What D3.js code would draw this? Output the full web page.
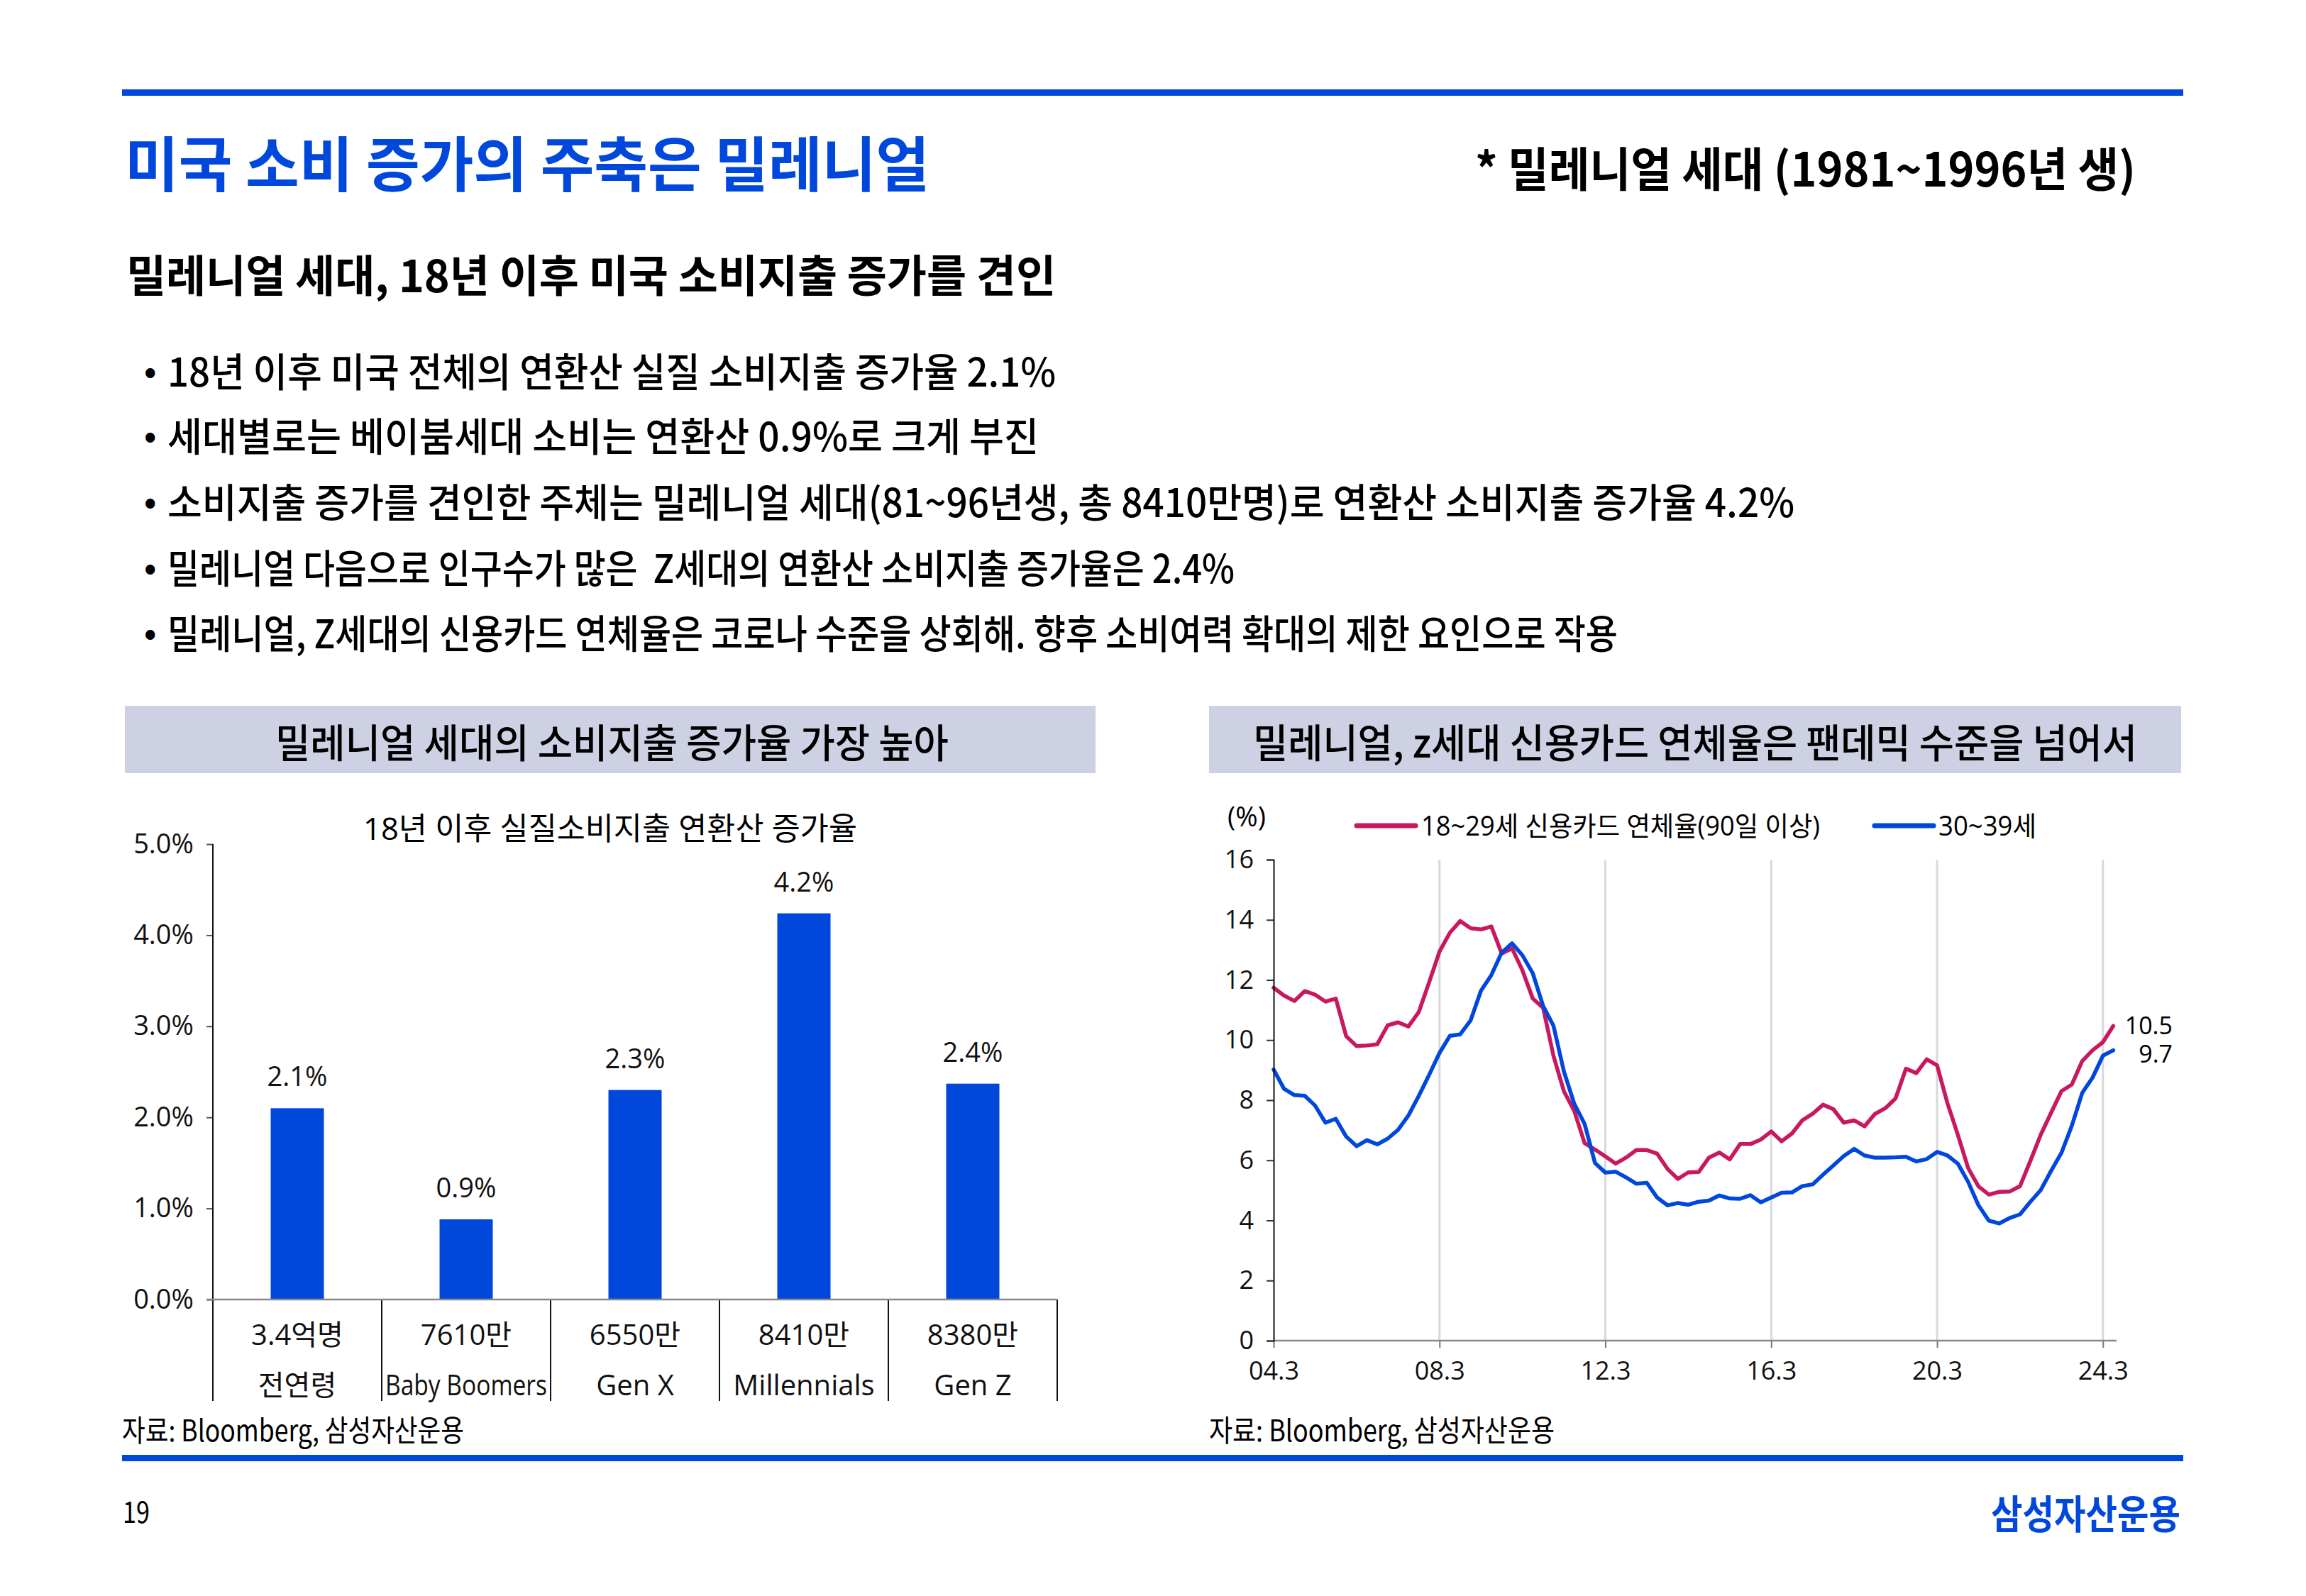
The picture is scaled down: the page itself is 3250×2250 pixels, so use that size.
<!DOCTYPE html>
<html><head><meta charset="utf-8">
<script src="https://cdn.jsdelivr.net/npm/d3@7"></script>
<style>html,body{margin:0;padding:0;background:#fff;}svg{display:block;}</style>
</head><body>
<script>
// ---------- DATA ----------
const barCategories = ["전연령", "Baby Boomers", "Gen X", "Millennials", "Gen Z"];
const barPopulation = ["3.4억명", "7610만", "6550만", "8410만", "8380만"];
const barValues = [2.1, 0.88, 2.3, 4.24, 2.37];
const barValueLabels = ["2.1%", "0.9%", "2.3%", "4.2%", "2.4%"];
const barTicks = [0, 1, 2, 3, 4, 5];

const startYear = 2004, quarterCount = 82; // 04.3 (Mar-2004) ... 24.6
const quarters = [];
for (let y = startYear; quarters.length < quarterCount; y++)
  for (const m of [3, 6, 9, 12]) if (quarters.length < quarterCount) quarters.push(String(y % 100).padStart(2, "0") + "." + m);
const xTickLabels = ["04.3", "08.3", "12.3", "16.3", "20.3", "24.3"];
const lineTicks = [0, 2, 4, 6, 8, 10, 12, 14, 16];

const delinq18to29 = [11.74, 11.48, 11.30, 11.63, 11.51, 11.28, 11.38, 10.13, 9.80, 9.82,
  9.86, 10.49, 10.59, 10.45, 10.93, 11.92, 12.94, 13.57, 13.96, 13.72,
  13.68, 13.78, 12.88, 13.05, 12.32, 11.38, 11.07, 9.47, 8.30, 7.64,
  6.57, 6.36, 6.13, 5.89, 6.09, 6.34, 6.34, 6.22, 5.71, 5.38,
  5.60, 5.61, 6.09, 6.26, 6.03, 6.54, 6.54, 6.69, 6.96, 6.63,
  6.89, 7.33, 7.55, 7.85, 7.70, 7.25, 7.33, 7.13, 7.54, 7.73,
  8.06, 9.05, 8.90, 9.36, 9.16, 7.90, 6.85, 5.74, 5.13, 4.86,
  4.95, 4.96, 5.14, 5.98, 6.85, 7.58, 8.30, 8.52, 9.30, 9.66,
  9.93, 10.47];
const delinq30to39 = [9.02, 8.38, 8.17, 8.15, 7.82, 7.25, 7.38, 6.79, 6.47, 6.67,
  6.53, 6.72, 7.01, 7.49, 8.14, 8.84, 9.57, 10.14, 10.19, 10.65,
  11.64, 12.16, 12.91, 13.22, 12.82, 12.22, 11.13, 10.47, 8.96, 7.88,
  7.21, 5.91, 5.59, 5.62, 5.43, 5.22, 5.25, 4.76, 4.50, 4.58,
  4.52, 4.62, 4.66, 4.83, 4.73, 4.72, 4.84, 4.60, 4.76, 4.92,
  4.93, 5.14, 5.20, 5.52, 5.83, 6.14, 6.38, 6.16, 6.09, 6.09,
  6.10, 6.12, 5.96, 6.04, 6.28, 6.16, 5.89, 5.28, 4.50, 3.99,
  3.90, 4.08, 4.20, 4.62, 5.01, 5.65, 6.25, 7.15, 8.24, 8.75,
  9.48, 9.66];
const seriesNames = ["18~29세 신용카드 연체율(90일 이상)", "30~39세"];
const endLabels = ["10.5", "9.7"];

const bullets = [
  "18년 이후 미국 전체의 연환산 실질 소비지출 증가율 2.1%",
  "세대별로는 베이붐세대 소비는 연환산 0.9%로 크게 부진",
  "소비지출 증가를 견인한 주체는 밀레니얼 세대(81~96년생, 총 8410만명)로 연환산 소비지출 증가율 4.2%",
  "밀레니얼 다음으로 인구수가 많은  Z세대의 연환산 소비지출 증가율은 2.4%",
  "밀레니얼, Z세대의 신용카드 연체율은 코로나 수준을 상회해. 향후 소비여력 확대의 제한 요인으로 작용"
];

// ---------- STYLE ----------
const BLUE = "#0047dc", RED = "#c8185f", BOX = "#ced1e4";
const KR = "'Noto Sans CJK KR','Noto Sans',sans-serif";
const CH = "'Open Sans','Noto Sans CJK KR',sans-serif";

const svg = d3.select("body").append("svg").attr("width", 3250).attr("height", 2250)
  .style("font-family", KR);

function text(x, y, s, o = {}) {
  const t = svg.append("text").attr("x", x).attr("y", y).text(s)
    .attr("font-size", o.size || 40).attr("fill", o.fill || "#000")
    .attr("font-weight", o.weight || 400).attr("text-anchor", o.anchor || "start")
    .attr("dominant-baseline", "central").style("font-family", o.family || KR)
    .style("white-space", "pre");
  if (o.len) t.attr("textLength", o.len).attr("lengthAdjust", "spacingAndGlyphs");
  return t;
}

// ---------- PAGE ----------
svg.append("rect").attr("x", 172).attr("y", 126).attr("width", 2905).attr("height", 9).attr("fill", BLUE);
svg.append("rect").attr("x", 172).attr("y", 2051).attr("width", 2905).attr("height", 9).attr("fill", BLUE);

text(176, 226, "미국 소비 증가의 주축은 밀레니얼", {size: 84, fill: BLUE, weight: 700, len: 1134});
text(2079, 234, "* 밀레니얼 세대 (1981~1996년 생)", {size: 66, weight: 700, len: 931});
text(178, 385, "밀레니얼 세대, 18년 이후 미국 소비지출 증가를 견인", {size: 62, weight: 700, len: 1310});

const bulletEnds = [1488, 1464, 2529, 1740, 2280];
const bulletY = [520, 611, 704, 797, 889];
bullets.forEach((b, i) => {
  text(203, bulletY[i], "•", {size: 46, weight: 700});
  text(236, bulletY[i], b, {size: 56, weight: 500, len: bulletEnds[i] - 236});
});

// header boxes
svg.append("rect").attr("x", 176).attr("y", 995).attr("width", 1368).attr("height", 95).attr("fill", BOX);
svg.append("rect").attr("x", 1704).attr("y", 995).attr("width", 1370).attr("height", 95).attr("fill", BOX);
text(388, 1043, "밀레니얼 세대의 소비지출 증가율 가장 높아", {size: 56, weight: 500, len: 949});
text(1766, 1043, "밀레니얼, z세대 신용카드 연체율은 팬데믹 수준을 넘어서", {size: 56, weight: 500, len: 1246});

// sources / footer
text(172, 2013, "자료: Bloomberg, 삼성자산운용", {size: 42, len: 482});
text(1704, 2013, "자료: Bloomberg, 삼성자산운용", {size: 42, len: 487});
text(173, 2128, "19", {size: 42, len: 38});
text(3073, 2130, "삼성자산운용", {size: 56, weight: 700, fill: BLUE, anchor: "end", len: 267});

// ---------- BAR CHART ----------
const bx = d3.scaleBand().domain(barCategories).range([300, 1490]).padding(0);
const by = d3.scaleLinear().domain([0, 5]).range([1832, 1190]);
const bw = bx.bandwidth() * 0.315;

text(860, 1167, "18년 이후 실질소비지출 연환산 증가율", {size: 44, anchor: "middle", family: CH, len: 696});

const gBar = svg.append("g");
gBar.selectAll("rect.bar").data(barValues).join("rect").attr("class", "bar")
  .attr("x", (d, i) => bx(barCategories[i]) + bx.bandwidth() / 2 - bw / 2)
  .attr("width", bw).attr("y", d => by(d)).attr("height", d => by(0) - by(d))
  .attr("fill", BLUE);
gBar.selectAll("text.val").data(barValues).join("text").attr("class", "val")
  .attr("x", (d, i) => bx(barCategories[i]) + bx.bandwidth() / 2)
  .attr("y", d => by(d) - 46).attr("text-anchor", "middle").attr("dominant-baseline", "central")
  .attr("font-size", 38).style("font-family", CH).attr("fill", "#111")
  .text((d, i) => barValueLabels[i]);

// y axis
const yAxisB = d3.axisLeft(by).tickValues(barTicks).tickFormat(d => d3.format(".1f")(d) + "%").tickSize(9).tickPadding(18);
const gya = svg.append("g").attr("transform", "translate(300,0)").call(yAxisB);
gya.select(".domain").remove();
gya.selectAll(".tick line").attr("stroke", "#555").attr("stroke-width", 2);
gya.selectAll(".tick text").attr("font-size", 38).style("font-family", CH).attr("fill", "#111");
svg.append("line").attr("x1", 300).attr("x2", 300).attr("y1", 1190).attr("y2", 1975).attr("stroke", "#111").attr("stroke-width", 2);
// baseline
svg.append("line").attr("x1", 291).attr("x2", 1490).attr("y1", by(0)).attr("y2", by(0)).attr("stroke", "#888").attr("stroke-width", 2.5);
// dividers
gBar.selectAll("line.div").data(barCategories).join("line").attr("class", "div")
  .attr("x1", d => bx(d) + bx.bandwidth()).attr("x2", d => bx(d) + bx.bandwidth())
  .attr("y1", by(0)).attr("y2", 1975).attr("stroke", "#111").attr("stroke-width", 2);
// category labels
gBar.selectAll("text.pop").data(barPopulation).join("text").attr("class", "pop")
  .attr("x", (d, i) => bx(barCategories[i]) + bx.bandwidth() / 2).attr("y", 1880)
  .attr("text-anchor", "middle").attr("dominant-baseline", "central")
  .attr("font-size", 40).style("font-family", CH).attr("fill", "#111").text(d => d);
gBar.selectAll("text.cat").data(barCategories).join("text").attr("class", "cat")
  .attr("x", d => bx(d) + bx.bandwidth() / 2).attr("y", 1951)
  .attr("text-anchor", "middle").attr("dominant-baseline", "central")
  .attr("font-size", 40).style("font-family", CH).attr("fill", "#111").text(d => d)
  .each(function () { const w = this.getComputedTextLength(); if (w > 228) d3.select(this).attr("textLength", 228).attr("lengthAdjust", "spacingAndGlyphs"); });

// ---------- LINE CHART ----------
const lx = d3.scalePoint().domain(quarters).range([1795, 1795 + 81 * 14.61]);
const ly = d3.scaleLinear().domain([0, 16]).range([1890, 1212]);
const gL = svg.append("g");

// grid
gL.selectAll("line.grid").data(xTickLabels.slice(1)).join("line").attr("class", "grid")
  .attr("x1", d => lx(d)).attr("x2", d => lx(d)).attr("y1", ly(16)).attr("y2", ly(0))
  .attr("stroke", "#d9d9d9").attr("stroke-width", 3);

// x axis
const xAxisL = d3.axisBottom(lx).tickValues(xTickLabels).tickSize(10).tickPadding(19);
const gxa = svg.append("g").attr("transform", `translate(0,${ly(0)})`).call(xAxisL);
gxa.select(".domain").remove();
gxa.selectAll(".tick line").attr("stroke", "#777").attr("stroke-width", 2);
gxa.selectAll(".tick text").attr("font-size", 36).style("font-family", CH).attr("fill", "#111");
svg.append("line").attr("x1", 1795).attr("x2", 2983).attr("y1", ly(0)).attr("y2", ly(0)).attr("stroke", "#888").attr("stroke-width", 2.5);

// y axis
const yAxisL = d3.axisLeft(ly).tickValues(lineTicks).tickSize(10).tickPadding(18);
const gyl = svg.append("g").attr("transform", "translate(1795,0)").call(yAxisL);
gyl.select(".domain").attr("stroke", "#111").attr("stroke-width", 2);
gyl.selectAll(".tick line").attr("stroke", "#333").attr("stroke-width", 2);
gyl.selectAll(".tick text").attr("font-size", 36).style("font-family", CH).attr("fill", "#111");
text(1757, 1150, "(%)", {size: 38, anchor: "middle", family: CH});

// lines
const lineGen = d3.line().x((d, i) => lx(quarters[i])).y(d => ly(d));
[[delinq18to29, RED], [delinq30to39, BLUE]].forEach(([data, c]) => {
  gL.append("path").datum(data).attr("d", lineGen).attr("fill", "none")
    .attr("stroke", c).attr("stroke-width", 5.5).attr("stroke-linejoin", "round").attr("stroke-linecap", "round");
});
text(3062, 1445, endLabels[0], {size: 34, anchor: "end", family: CH});
text(3062, 1485, endLabels[1], {size: 34, anchor: "end", family: CH});

// legend
const legItems = [{x: 1912, tx: 2003, len: 562, c: RED}, {x: 2642, tx: 2732, len: 138, c: BLUE}];
legItems.forEach((l, i) => {
  svg.append("line").attr("x1", l.x).attr("x2", l.x + 83).attr("y1", 1164).attr("y2", 1164)
    .attr("stroke", l.c).attr("stroke-width", 7).attr("stroke-linecap", "round");
  text(l.tx, 1163, seriesNames[i], {size: 38, family: CH, len: l.len});
});
</script>
</body></html>
